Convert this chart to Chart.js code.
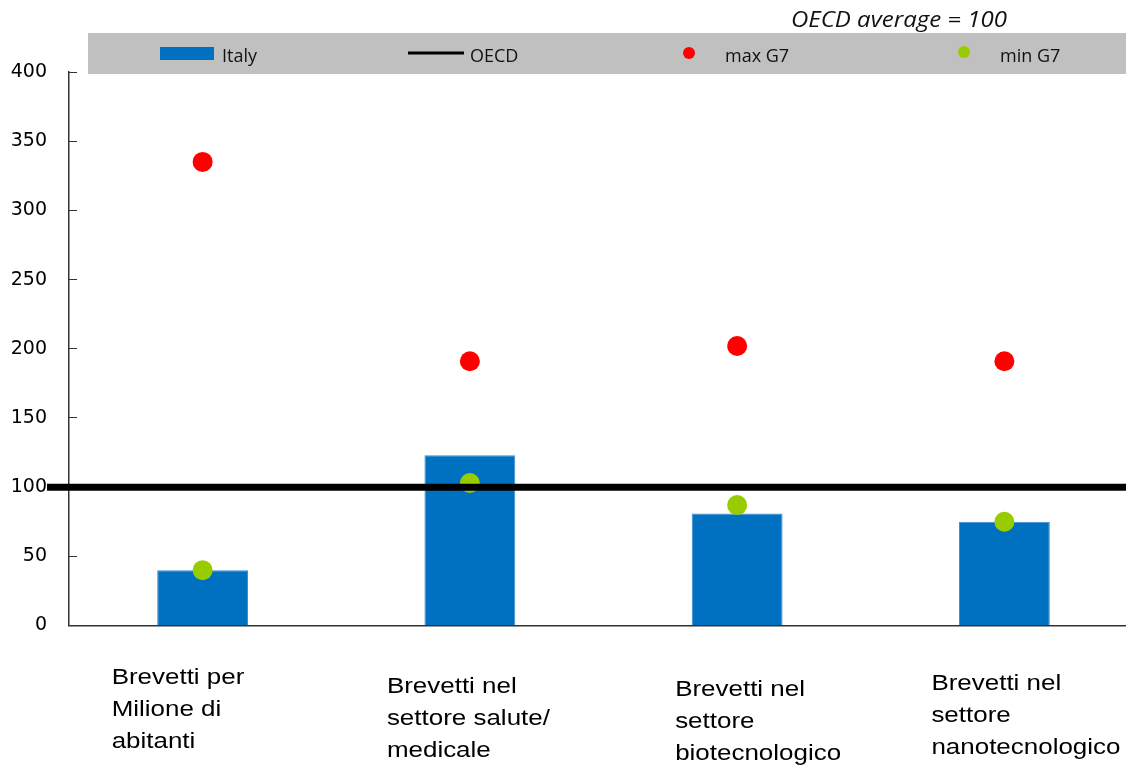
<!DOCTYPE html>
<html>
<head>
<meta charset="utf-8">
<title>Brevetti - Italia e G7 rispetto alla media OCSE</title>
<script src="https://cdn.jsdelivr.net/npm/chart.js@4/dist/chart.umd.min.js"></script>
<style>
  html, body { margin: 0; padding: 0; background: #fff; overflow: hidden; }
  #wrap { width: 1126px; height: 765px; overflow: hidden; }
  #patents-chart { display: block; }
</style>
</head>
<body>
<div id="wrap"><canvas id="patents-chart" width="1138" height="765"></canvas></div>
<script>
// Data (OECD average = 100)
const categories = [
  ["Brevetti per", "Milione di", "abitanti"],
  ["Brevetti nel", "settore salute/", "medicale"],
  ["Brevetti nel", "settore", "biotecnologico"],
  ["Brevetti nel", "settore", "nanotecnologico"]
];
const italyValues = [40, 123, 81, 75];
const oecdValues = [100, 100, 100, 100];
const maxG7Values = [335, 191, 202, 191];
const minG7Values = [40, 103, 87, 75];
const yTicks = [0, 50, 100, 150, 200, 250, 300, 350, 400];
const legendNames = ["Italy", "OECD", "max G7", "min G7"];
const chartNote = "OECD average = 100";

const BLUE = "#0070C0";
const RED = "#FF0000";
const GREEN = "#99CC00";
const AXIS = "#333333";

// Thick reference line for the OECD average, drawn on top of bars and dots
const oecdLinePlugin = {
  id: "oecdLine",
  afterDatasetsDraw(chart) {
    const { ctx, chartArea, scales } = chart;
    const yPix = scales.y.getPixelForValue(oecdValues[0]);
    ctx.save();
    ctx.strokeStyle = "#000";
    ctx.lineWidth = 7;
    ctx.beginPath();
    ctx.moveTo(chartArea.left - 22, yPix);
    ctx.lineTo(chartArea.right, yPix);
    ctx.stroke();
    ctx.restore();
  }
};

// Grey legend band + note on top
const legendBandPlugin = {
  id: "legendBand",
  beforeDraw(chart) {
    const { ctx, width } = chart;
    ctx.save();
    ctx.fillStyle = "#C0C0C0";
    ctx.fillRect(88, 33, width - 88, 41);

    ctx.font = "18px 'Open Sans'";
    ctx.textBaseline = "alphabetic";

    // Italy
    ctx.fillStyle = BLUE;
    ctx.fillRect(160, 47, 54, 13);
    ctx.fillStyle = "#111";
    ctx.fillText(legendNames[0], 222, 62);
    // OECD
    ctx.strokeStyle = "#000";
    ctx.lineWidth = 3;
    ctx.beginPath();
    ctx.moveTo(408, 53);
    ctx.lineTo(464, 53);
    ctx.stroke();
    ctx.fillText(legendNames[1], 470, 62);
    // max G7
    ctx.fillStyle = RED;
    ctx.beginPath();
    ctx.arc(689, 53, 6, 0, Math.PI * 2);
    ctx.fill();
    ctx.fillStyle = "#111";
    ctx.fillText(legendNames[2], 725, 62);
    // min G7
    ctx.fillStyle = GREEN;
    ctx.beginPath();
    ctx.arc(964, 52, 6, 0, Math.PI * 2);
    ctx.fill();
    ctx.fillStyle = "#111";
    ctx.fillText(legendNames[3], 1000, 62);

    // note, stretched a bit to the original width
    ctx.font = "italic 21px 'Open Sans'";
    ctx.textAlign = "right";
    const w = ctx.measureText(chartNote).width;
    ctx.translate(1007, 27);
    ctx.scale(216 / w, 1);
    ctx.fillText(chartNote, 0, 0);
    ctx.restore();
  }
};

// Category text boxes under the axis (left aligned, slightly staggered)
const labelDx = [-91, -83, -62, -73];
const labelDy = [58, 67, 70, 64];
const categoryLabelPlugin = {
  id: "categoryLabels",
  afterDraw(chart) {
    const { ctx, chartArea, scales } = chart;
    ctx.save();
    ctx.fillStyle = "#000";
    ctx.font = "22px 'Liberation Sans', Arial, sans-serif";
    ctx.textAlign = "left";
    ctx.textBaseline = "alphabetic";
    categories.forEach((lines, i) => {
      const x = scales.x.getPixelForValue(i) + labelDx[i];
      const y = chartArea.bottom + labelDy[i];
      lines.forEach((line, j) => {
        ctx.save();
        ctx.translate(x, y + j * 32);
        ctx.scale(1.18, 1);
        ctx.fillText(line, 0, 0);
        ctx.restore();
      });
    });
    ctx.restore();
  }
};

const chart = new Chart(document.getElementById("patents-chart"), {
  type: "bar",
  data: {
    labels: categories.map((c) => c.join(" ")),
    datasets: [
      {
        type: "line",
        label: legendNames[2],
        data: maxG7Values,
        showLine: false,
        pointRadius: 10,
        pointHoverRadius: 10,
        pointBorderWidth: 0,
        pointBackgroundColor: RED,
        order: 0
      },
      {
        type: "line",
        label: legendNames[3],
        data: minG7Values,
        showLine: false,
        pointRadius: 10,
        pointHoverRadius: 10,
        pointBorderWidth: 0,
        pointBackgroundColor: GREEN,
        order: 1
      },
      {
        label: legendNames[0],
        data: italyValues,
        backgroundColor: BLUE,
        borderColor: "#3A8AD6",
        borderWidth: 1,
        categoryPercentage: 1,
        barPercentage: 0.34,
        order: 2
      }
    ]
  },
  options: {
    responsive: false,
    animation: false,
    events: [],
    // plot runs a little past the right edge of the picture, like the original
    layout: { autoPadding: false, padding: { top: 72, left: 0, right: 0, bottom: 0 } },
    plugins: {
      legend: { display: false },
      tooltip: { enabled: false }
    },
    scales: {
      x: {
        afterFit: (s) => { s.height = 139.5; },
        grid: { display: false },
        border: { color: AXIS, width: 1.5 },
        ticks: { display: false }
      },
      y: {
        min: 0,
        max: 400,
        afterBuildTicks: (s) => { s.ticks = yTicks.map((v) => ({ value: v })); },
        afterFit: (s) => { s.width = 69; },
        grid: { drawOnChartArea: false, tickLength: -8, color: AXIS, lineWidth: 1 },
        border: { color: AXIS, width: 1.5 },
        ticks: {
          color: "#000",
          padding: 30,
          font: { family: "'DejaVu Sans', Verdana, sans-serif", size: 19 }
        }
      }
    }
  },
  plugins: [legendBandPlugin, oecdLinePlugin, categoryLabelPlugin]
});
</script>
</body>
</html>
